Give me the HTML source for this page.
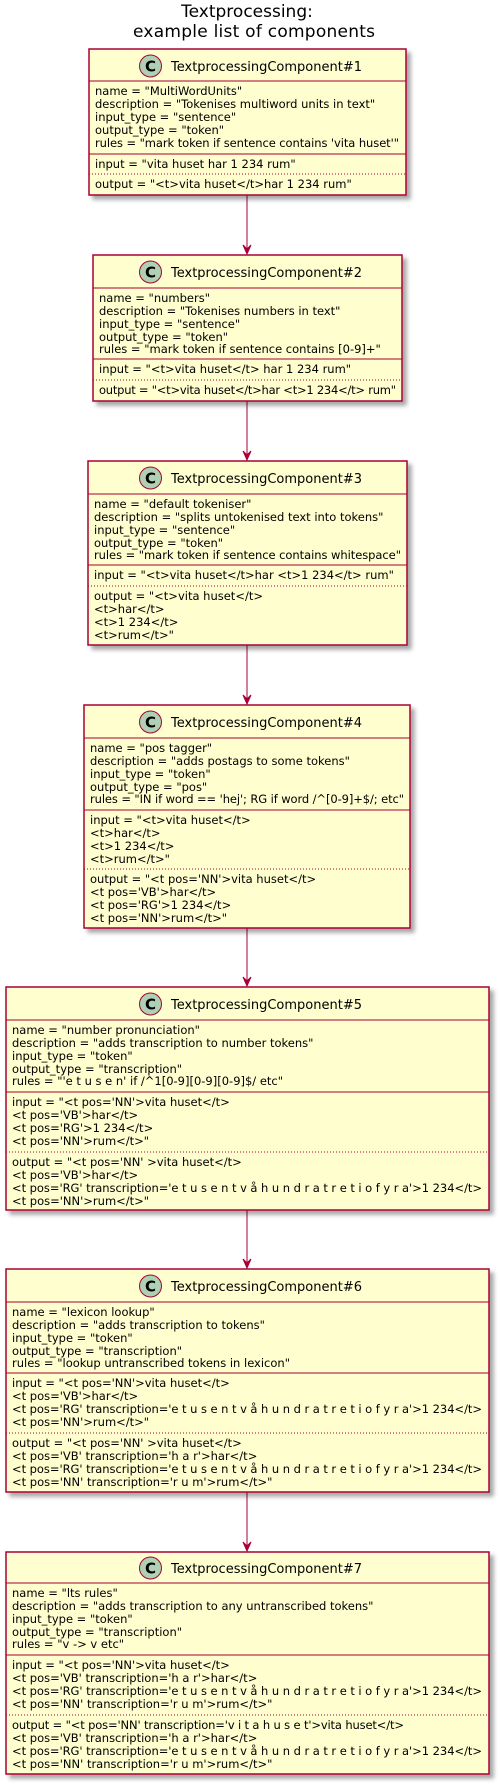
<!DOCTYPE html>
<html><head><meta charset="utf-8"><style>
html,body{margin:0;padding:0;background:#fff;}
svg{display:block;}
text{font-family:"DejaVu Sans","Liberation Sans",sans-serif;fill:#000;}
.t{font-size:11.5px;}
.h{font-size:13px;}
.ti{font-size:17px;}
.b{fill:#FEFECE;stroke:#A80036;stroke-width:1.5;}
.l{stroke:#A80036;stroke-width:1;}
.d{stroke:#A80036;stroke-width:1;stroke-dasharray:1,2;}
.c{fill:#ADD1B2;stroke:#A80036;stroke-width:1;}
.ar{fill:#A80036;stroke:#A80036;}
.cl{font-size:15px;font-weight:bold;}
</style></head><body>
<svg width="500" height="1785" viewBox="0 0 500 1785" xmlns="http://www.w3.org/2000/svg">
<defs><filter id="sh" x="-10%" y="-10%" width="130%" height="130%"><feGaussianBlur in="SourceAlpha" stdDeviation="2"/><feOffset dx="4" dy="4"/><feComponentTransfer><feFuncA type="linear" slope="0.35"/></feComponentTransfer><feMerge><feMergeNode/><feMergeNode in="SourceGraphic"/></feMerge></filter></defs>

<text class="ti" x="247" y="17" text-anchor="middle">Textprocessing:</text>
<text class="ti" x="254" y="37" text-anchor="middle" textLength="242">example list of components</text>

<line class="l" x1="247" y1="195" x2="247" y2="254"/>
<polygon class="ar" points="243,245 247,254 251,245 247,249"/>
<line class="l" x1="247" y1="401" x2="247" y2="460"/>
<polygon class="ar" points="243,451 247,460 251,451 247,455"/>
<line class="l" x1="247" y1="645" x2="247" y2="704"/>
<polygon class="ar" points="243,695 247,704 251,695 247,699"/>
<line class="l" x1="247" y1="928" x2="247" y2="986"/>
<polygon class="ar" points="243,977 247,986 251,977 247,981"/>
<line class="l" x1="247" y1="1210" x2="247" y2="1268"/>
<polygon class="ar" points="243,1259 247,1268 251,1259 247,1263"/>
<line class="l" x1="247" y1="1492" x2="247" y2="1551"/>
<polygon class="ar" points="243,1542 247,1551 251,1542 247,1546"/>

<rect class="b" x="89" y="49" width="317" height="146" filter="url(#sh)"/>
<line class="l" x1="89" y1="81" x2="406" y2="81"/>
<line class="l" x1="89" y1="154" x2="406" y2="154"/>
<line class="d" x1="89" y1="174" x2="406" y2="174"/>
<circle class="c" cx="150.5" cy="66" r="11"/><text class="cl" x="150.5" y="71.5" text-anchor="middle">C</text>
<text class="h" x="171" y="71">TextprocessingComponent#1</text>
<text class="t" x="95" y="95">name = "MultiWordUnits"</text>
<text class="t" x="95" y="108">description = "Tokenises multiword units in text"</text>
<text class="t" x="95" y="121">input_type = "sentence"</text>
<text class="t" x="95" y="134">output_type = "token"</text>
<text class="t" x="95" y="147" textLength="304">rules = "mark token if sentence contains 'vita huset'"</text>
<text class="t" x="95" y="168">input = "vita huset har 1 234 rum"</text>
<text class="t" x="95" y="188">output = "&lt;t&gt;vita huset&lt;/t&gt;har 1 234 rum"</text>

<rect class="b" x="93" y="255" width="309" height="146" filter="url(#sh)"/>
<line class="l" x1="93" y1="288" x2="402" y2="288"/>
<line class="l" x1="93" y1="359" x2="402" y2="359"/>
<line class="d" x1="93" y1="380" x2="402" y2="380"/>
<circle class="c" cx="150.5" cy="272" r="11"/><text class="cl" x="150.5" y="277.5" text-anchor="middle">C</text>
<text class="h" x="171" y="277">TextprocessingComponent#2</text>
<text class="t" x="99" y="302">name = "numbers"</text>
<text class="t" x="99" y="315">description = "Tokenises numbers in text"</text>
<text class="t" x="99" y="328">input_type = "sentence"</text>
<text class="t" x="99" y="341">output_type = "token"</text>
<text class="t" x="99" y="353">rules = "mark token if sentence contains [0-9]+"</text>
<text class="t" x="99" y="373">input = "&lt;t&gt;vita huset&lt;/t&gt; har 1 234 rum"</text>
<text class="t" x="99" y="394" textLength="297">output = "&lt;t&gt;vita huset&lt;/t&gt;har &lt;t&gt;1 234&lt;/t&gt; rum"</text>

<rect class="b" x="88" y="461" width="319" height="184" filter="url(#sh)"/>
<line class="l" x1="88" y1="494" x2="407" y2="494"/>
<line class="l" x1="88" y1="565" x2="407" y2="565"/>
<line class="d" x1="88" y1="586" x2="407" y2="586"/>
<circle class="c" cx="150.5" cy="478" r="11"/><text class="cl" x="150.5" y="483.5" text-anchor="middle">C</text>
<text class="h" x="171" y="483">TextprocessingComponent#3</text>
<text class="t" x="94" y="508">name = "default tokeniser"</text>
<text class="t" x="94" y="521">description = "splits untokenised text into tokens"</text>
<text class="t" x="94" y="534">input_type = "sentence"</text>
<text class="t" x="94" y="547">output_type = "token"</text>
<text class="t" x="94" y="559" textLength="307">rules = "mark token if sentence contains whitespace"</text>
<text class="t" x="94" y="579">input = "&lt;t&gt;vita huset&lt;/t&gt;har &lt;t&gt;1 234&lt;/t&gt; rum"</text>
<text class="t" x="94" y="600">output = "&lt;t&gt;vita huset&lt;/t&gt;</text>
<text class="t" x="94" y="613">&lt;t&gt;har&lt;/t&gt;</text>
<text class="t" x="94" y="626">&lt;t&gt;1 234&lt;/t&gt;</text>
<text class="t" x="94" y="639">&lt;t&gt;rum&lt;/t&gt;"</text>

<rect class="b" x="84" y="705" width="326" height="223" filter="url(#sh)"/>
<line class="l" x1="84" y1="738" x2="410" y2="738"/>
<line class="l" x1="84" y1="810" x2="410" y2="810"/>
<line class="d" x1="84" y1="869" x2="410" y2="869"/>
<circle class="c" cx="150.5" cy="722" r="11"/><text class="cl" x="150.5" y="727.5" text-anchor="middle">C</text>
<text class="h" x="171" y="727">TextprocessingComponent#4</text>
<text class="t" x="90" y="752">name = "pos tagger"</text>
<text class="t" x="90" y="765">description = "adds postags to some tokens"</text>
<text class="t" x="90" y="778">input_type = "token"</text>
<text class="t" x="90" y="791">output_type = "pos"</text>
<text class="t" x="90" y="803" textLength="314">rules = "IN if word == 'hej'; RG if word /^[0-9]+$/; etc"</text>
<text class="t" x="90" y="824">input = "&lt;t&gt;vita huset&lt;/t&gt;</text>
<text class="t" x="90" y="837">&lt;t&gt;har&lt;/t&gt;</text>
<text class="t" x="90" y="850">&lt;t&gt;1 234&lt;/t&gt;</text>
<text class="t" x="90" y="863">&lt;t&gt;rum&lt;/t&gt;"</text>
<text class="t" x="90" y="883">output = "&lt;t pos='NN'&gt;vita huset&lt;/t&gt;</text>
<text class="t" x="90" y="896">&lt;t pos='VB'&gt;har&lt;/t&gt;</text>
<text class="t" x="90" y="909">&lt;t pos='RG'&gt;1 234&lt;/t&gt;</text>
<text class="t" x="90" y="922">&lt;t pos='NN'&gt;rum&lt;/t&gt;"</text>

<rect class="b" x="6" y="987" width="483" height="223" filter="url(#sh)"/>
<line class="l" x1="6" y1="1020" x2="489" y2="1020"/>
<line class="l" x1="6" y1="1092" x2="489" y2="1092"/>
<line class="d" x1="6" y1="1152" x2="489" y2="1152"/>
<circle class="c" cx="150.5" cy="1004" r="11"/><text class="cl" x="150.5" y="1009.5" text-anchor="middle">C</text>
<text class="h" x="171" y="1009">TextprocessingComponent#5</text>
<text class="t" x="12" y="1034">name = "number pronunciation"</text>
<text class="t" x="12" y="1047">description = "adds transcription to number tokens"</text>
<text class="t" x="12" y="1060">input_type = "token"</text>
<text class="t" x="12" y="1073">output_type = "transcription"</text>
<text class="t" x="12" y="1085">rules = "'e t u s e n' if /^1[0-9][0-9][0-9]$/ etc"</text>
<text class="t" x="12" y="1106">input = "&lt;t pos='NN'&gt;vita huset&lt;/t&gt;</text>
<text class="t" x="12" y="1119">&lt;t pos='VB'&gt;har&lt;/t&gt;</text>
<text class="t" x="12" y="1132">&lt;t pos='RG'&gt;1 234&lt;/t&gt;</text>
<text class="t" x="12" y="1145">&lt;t pos='NN'&gt;rum&lt;/t&gt;"</text>
<text class="t" x="12" y="1166">output = "&lt;t pos='NN' &gt;vita huset&lt;/t&gt;</text>
<text class="t" x="12" y="1179">&lt;t pos='VB'&gt;har&lt;/t&gt;</text>
<text class="t" x="12" y="1192" textLength="470">&lt;t pos='RG' transcription='e t u s e n t v å h u n d r a t r e t i o f y r a'&gt;1 234&lt;/t&gt;</text>
<text class="t" x="12" y="1205">&lt;t pos='NN'&gt;rum&lt;/t&gt;"</text>

<rect class="b" x="6" y="1269" width="483" height="223" filter="url(#sh)"/>
<line class="l" x1="6" y1="1302" x2="489" y2="1302"/>
<line class="l" x1="6" y1="1373" x2="489" y2="1373"/>
<line class="d" x1="6" y1="1433" x2="489" y2="1433"/>
<circle class="c" cx="150.5" cy="1286" r="11"/><text class="cl" x="150.5" y="1291.5" text-anchor="middle">C</text>
<text class="h" x="171" y="1291">TextprocessingComponent#6</text>
<text class="t" x="12" y="1316">name = "lexicon lookup"</text>
<text class="t" x="12" y="1329">description = "adds transcription to tokens"</text>
<text class="t" x="12" y="1342">input_type = "token"</text>
<text class="t" x="12" y="1355">output_type = "transcription"</text>
<text class="t" x="12" y="1367">rules = "lookup untranscribed tokens in lexicon"</text>
<text class="t" x="12" y="1387">input = "&lt;t pos='NN'&gt;vita huset&lt;/t&gt;</text>
<text class="t" x="12" y="1400">&lt;t pos='VB'&gt;har&lt;/t&gt;</text>
<text class="t" x="12" y="1413" textLength="470">&lt;t pos='RG' transcription='e t u s e n t v å h u n d r a t r e t i o f y r a'&gt;1 234&lt;/t&gt;</text>
<text class="t" x="12" y="1426">&lt;t pos='NN'&gt;rum&lt;/t&gt;"</text>
<text class="t" x="12" y="1447">output = "&lt;t pos='NN' &gt;vita huset&lt;/t&gt;</text>
<text class="t" x="12" y="1460">&lt;t pos='VB' transcription='h a r'&gt;har&lt;/t&gt;</text>
<text class="t" x="12" y="1473" textLength="470">&lt;t pos='RG' transcription='e t u s e n t v å h u n d r a t r e t i o f y r a'&gt;1 234&lt;/t&gt;</text>
<text class="t" x="12" y="1486">&lt;t pos='NN' transcription='r u m'&gt;rum&lt;/t&gt;"</text>

<rect class="b" x="6" y="1552" width="483" height="222" filter="url(#sh)"/>
<line class="l" x1="6" y1="1583" x2="489" y2="1583"/>
<line class="l" x1="6" y1="1655" x2="489" y2="1655"/>
<line class="d" x1="6" y1="1715" x2="489" y2="1715"/>
<circle class="c" cx="150.5" cy="1568" r="11"/><text class="cl" x="150.5" y="1573.5" text-anchor="middle">C</text>
<text class="h" x="171" y="1573">TextprocessingComponent#7</text>
<text class="t" x="12" y="1597">name = "lts rules"</text>
<text class="t" x="12" y="1610">description = "adds transcription to any untranscribed tokens"</text>
<text class="t" x="12" y="1623">input_type = "token"</text>
<text class="t" x="12" y="1636">output_type = "transcription"</text>
<text class="t" x="12" y="1648">rules = "v -&gt; v etc"</text>
<text class="t" x="12" y="1669">input = "&lt;t pos='NN'&gt;vita huset&lt;/t&gt;</text>
<text class="t" x="12" y="1682">&lt;t pos='VB' transcription='h a r'&gt;har&lt;/t&gt;</text>
<text class="t" x="12" y="1695" textLength="470">&lt;t pos='RG' transcription='e t u s e n t v å h u n d r a t r e t i o f y r a'&gt;1 234&lt;/t&gt;</text>
<text class="t" x="12" y="1708">&lt;t pos='NN' transcription='r u m'&gt;rum&lt;/t&gt;"</text>
<text class="t" x="12" y="1729" textLength="392">output = "&lt;t pos='NN' transcription='v i t a h u s e t'&gt;vita huset&lt;/t&gt;</text>
<text class="t" x="12" y="1742">&lt;t pos='VB' transcription='h a r'&gt;har&lt;/t&gt;</text>
<text class="t" x="12" y="1755" textLength="470">&lt;t pos='RG' transcription='e t u s e n t v å h u n d r a t r e t i o f y r a'&gt;1 234&lt;/t&gt;</text>
<text class="t" x="12" y="1768">&lt;t pos='NN' transcription='r u m'&gt;rum&lt;/t&gt;"</text>
</svg>
</body></html>
